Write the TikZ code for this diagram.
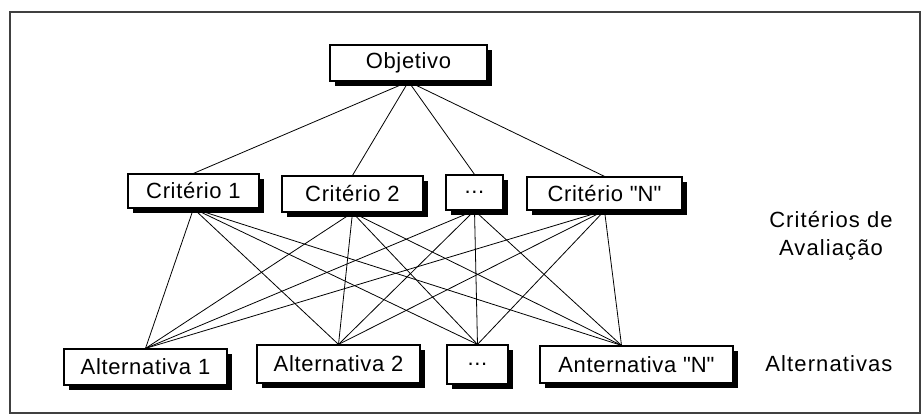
\documentclass[tikz,border=0pt]{standalone}
\usepackage{fontspec}
\setmainfont{Liberation Sans}
\usepackage{tikz}
\usetikzlibrary{shadows}

\begin{document}
\begin{tikzpicture}[x=1pt, y=-1pt,
		caixa/.style={
			rectangle, draw=black, fill=white, line width=1.2pt, inner sep=0pt,
			drop shadow={shadow xshift=5pt, shadow yshift=-5pt, fill=black, opacity=1},
			font=\fontsize{22}{26}\selectfont\addfontfeature{LetterSpace=3}
		},
		rotulo/.style={align=center, font=\fontsize{22}{28}\selectfont\addfontfeature{LetterSpace=5}},
		liga/.style={line width=0.8pt}
	]
		\useasboundingbox (0,0) rectangle (922,418);
		\draw[line width=1.5pt, draw=black!75] (10,12) rectangle (920,413);

		\node[caixa, minimum width=157pt, minimum height=36pt] (obj) at (408.5,63) {Objetivo};

		\node[caixa, minimum width=131pt, minimum height=34pt] (c1) at (193.5,191) {Critério 1};
		\node[caixa, minimum width=141pt, minimum height=36pt] (c2) at (352.5,194) {Critério 2};
		\node[caixa, minimum width=57pt, minimum height=35pt] (c3) at (474.5,192.5) {...};
		\node[caixa, minimum width=155pt, minimum height=33pt] (cn) at (604.5,193.5) {Critério \textquotedbl N\textquotedbl};

		\node[caixa, minimum width=163pt, minimum height=36pt] (a1) at (145.5,367) {Alternativa 1};
		\node[caixa, minimum width=163pt, minimum height=38pt] (a2) at (338.5,364) {Alternativa 2};
		\node[caixa, minimum width=61pt, minimum height=39pt] (a3) at (477.5,364.5) {...};
		\node[caixa, minimum width=193pt, minimum height=37pt] (an) at (636.5,364.5) {Anternativa \textquotedbl N\textquotedbl};
		\coordinate (an-topo) at ([xshift=-15pt]an.north);

		\node[rotulo] (aval) at (831,236) {Critérios de\\Avaliação};
		\node[rotulo] (alts) at (829,364) {Alternativas};

		\foreach \c in {c1,c2,c3,cn} {
				\draw[liga] (obj.south) -- (\c.north);
				\foreach \a in {a1.north,a2.north,a3.north,an-topo} {
						\draw[liga] (\c.south) -- (\a);
					}
			}
	\end{tikzpicture}
\end{document}
